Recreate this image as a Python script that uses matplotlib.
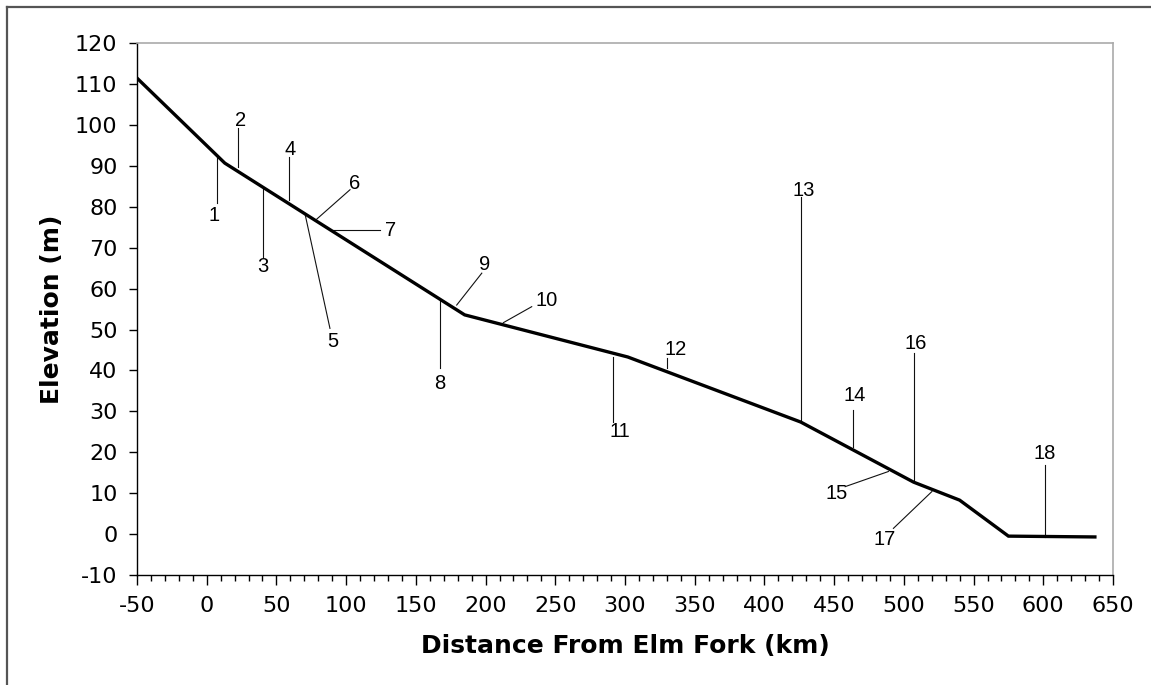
import matplotlib
matplotlib.use("Agg")
import matplotlib.pyplot as plt
from matplotlib.lines import Line2D
from matplotlib.ticker import MultipleLocator

plt.rcParams["axes.unicode_minus"] = False

# river profile (km from Elm Fork, elevation m)
dist = [-50, 13, 185, 302, 426, 507, 540, 575, 637]
elev = [111.5, 90.7, 53.6, 43.3, 27.4, 12.7, 8.3, -0.5, -0.7]

# numbered sites: leader line start (on profile), leader end, label position
site_ids = [str(i) for i in range(1, 19)]
lead_x0 = [7.2, 22.7, 40.2, 59.0, 70.5, 78.9, 90.8, 167.4, 179.3,
           212.8, 291.7, 330.0, 426.1, 463.8, 488.9, 507.4, 520.1, 600.9]
lead_y0 = [92.7, 89.8, 84.5, 81.7, 78.3, 77.0, 74.3, 57.2, 56.0,
           51.7, 43.4, 40.5, 27.5, 21.4, 15.3, 13.3, 10.4, -0.6]
lead_x1 = [7.2, 22.7, 40.2, 59.0, 88.4, 102.8, 124.3, 167.4, 197.3,
           233.1, 291.7, 330.0, 426.1, 463.8, 457.9, 507.4, 492.5, 600.9]
lead_y1 = [80.9, 99.2, 67.8, 92.3, 50.3, 84.2, 74.3, 40.5, 63.8,
           55.6, 27.5, 43.0, 82.5, 30.3, 11.6, 44.2, 1.4, 16.9]
label_x = [5.2, 24.4, 40.2, 59.8, 90.8, 105.9, 132.0, 167.4, 199.6,
           243.9, 296.5, 336.6, 428.0, 465.0, 451.9, 508.6, 486.5, 600.9]
label_y = [78.0, 101.2, 65.4, 94.1, 47.0, 85.7, 74.3, 36.9, 65.8,
           57.2, 25.0, 45.2, 84.1, 33.8, 10.0, 46.6, -1.3, 19.6]

fig = plt.figure(figsize=(11.51, 6.85), dpi=100)
ax = fig.add_axes([0.119, 0.1606, 0.848, 0.7762])

for i in range(len(site_ids)):
    ax.plot([lead_x0[i], lead_x1[i]], [lead_y0[i], lead_y1[i]],
            color="#111111", lw=0.8, zorder=2)
    ax.text(label_x[i], label_y[i], site_ids[i], ha="center", va="center",
            fontsize=14.5, family="Liberation Sans", zorder=4)

ax.plot(dist, elev, color="black", lw=2.4, solid_joinstyle="miter", zorder=3)

ax.set_xlim(-50, 650)
ax.set_ylim(-10, 120)
ax.xaxis.set_major_locator(MultipleLocator(50))
ax.xaxis.set_minor_locator(MultipleLocator(10))
ax.yaxis.set_major_locator(MultipleLocator(10))

ax.tick_params(axis="x", which="major", length=7, width=1, pad=8, labelsize=16)
ax.tick_params(axis="x", which="minor", length=4, width=1)
ax.tick_params(axis="y", which="major", length=6, width=1, pad=8, labelsize=16)

for s in ["left", "bottom"]:
    ax.spines[s].set_color("black")
    ax.spines[s].set_linewidth(1)
for s in ["top", "right"]:
    ax.spines[s].set_color("#aaaaaa")
    ax.spines[s].set_linewidth(1.2)

ax.set_xlabel("Distance From Elm Fork (km)", fontsize=18, fontweight="bold", labelpad=13)
ax.set_ylabel("Elevation (m)", fontsize=18, fontweight="bold", labelpad=8)

# outer frame (top and left edges only, as in the source image)
fig.add_artist(Line2D([7.5 / 1151, 1], [1 - 7 / 685, 1 - 7 / 685],
                      transform=fig.transFigure, color="#555555", lw=1.6))
fig.add_artist(Line2D([7.5 / 1151, 7.5 / 1151], [0, 1 - 7 / 685],
                      transform=fig.transFigure, color="#555555", lw=1.6))

fig.savefig("out.png", dpi=100)
